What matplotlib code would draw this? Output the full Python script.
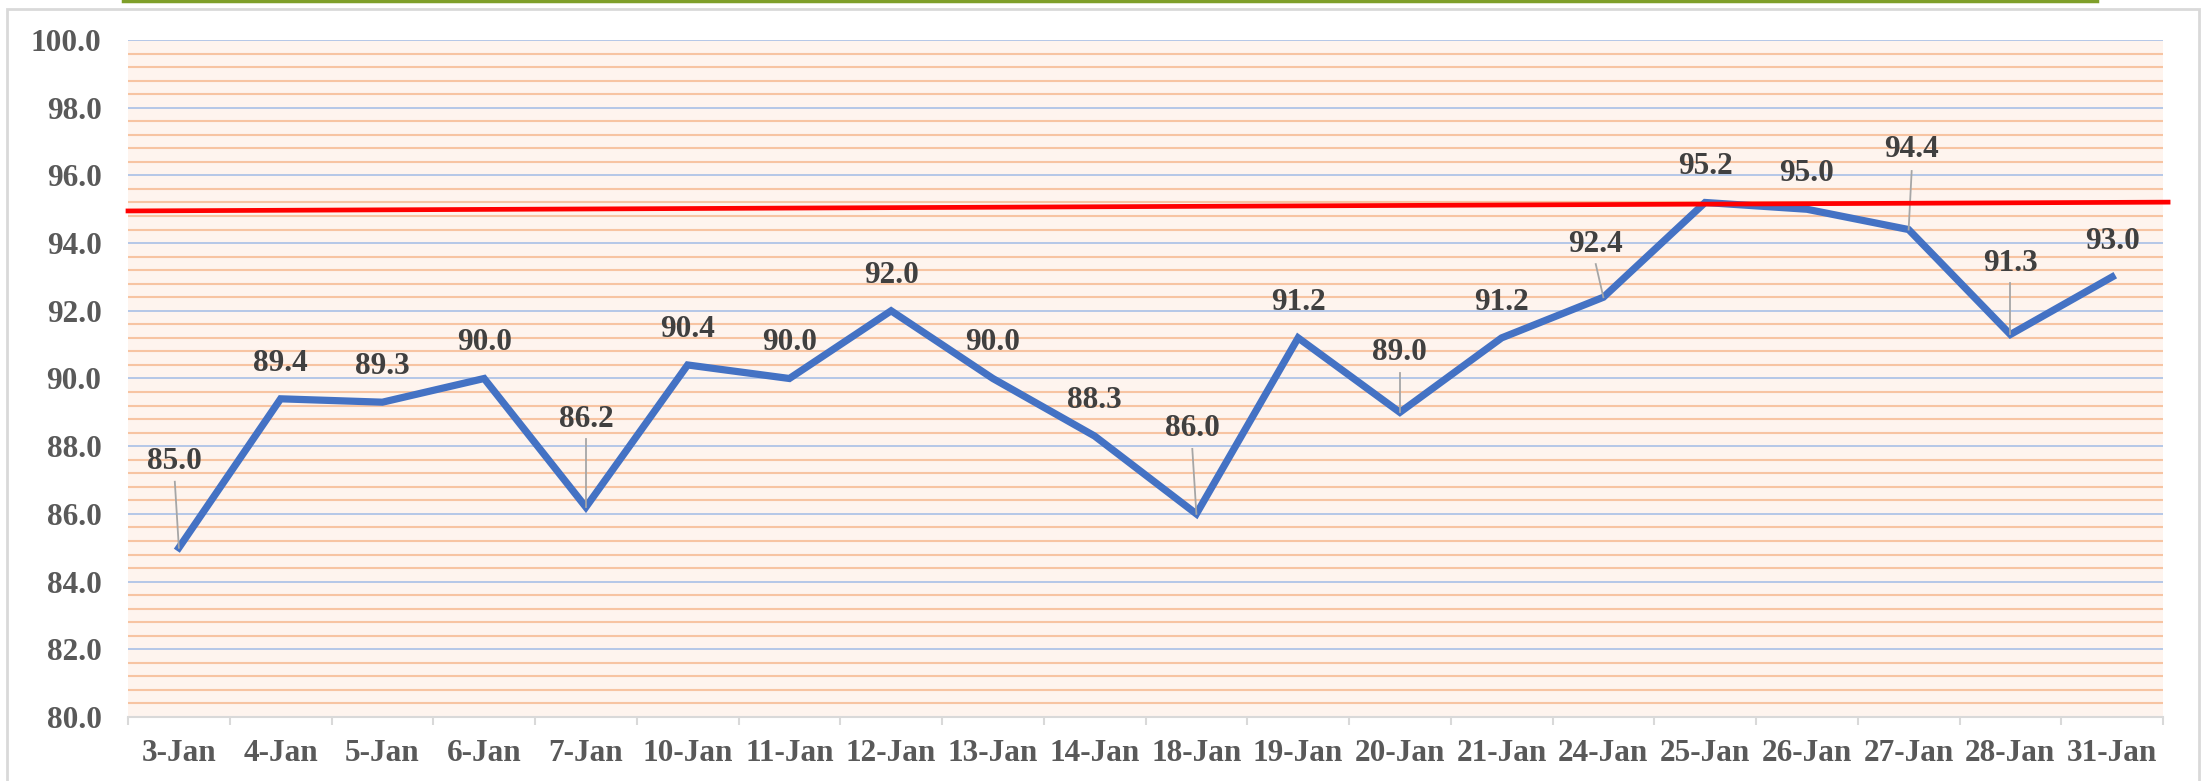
import matplotlib
matplotlib.use("Agg")
import matplotlib.pyplot as plt
from matplotlib.patches import Rectangle
from matplotlib.lines import Line2D
import numpy as np

# data
dates = ["3-Jan", "4-Jan", "5-Jan", "6-Jan", "7-Jan", "10-Jan", "11-Jan",
         "12-Jan", "13-Jan", "14-Jan", "18-Jan", "19-Jan", "20-Jan", "21-Jan",
         "24-Jan", "25-Jan", "26-Jan", "27-Jan", "28-Jan", "31-Jan"]
values = [85.0, 89.4, 89.3, 90.0, 86.2, 90.4, 90.0, 92.0, 90.0, 88.3,
          86.0, 91.2, 89.0, 91.2, 92.4, 95.2, 95.0, 94.4, 91.3, 93.0]
target_start, target_end = 94.95, 95.21

# colours
C_LINE = "#4472C4"
C_TARGET = "#FF0000"
C_GRID = "#B4C7E7"
C_STRIPE = "#F7C4A2"
C_FILL = "#FEF4EE"
C_AXIS = "#D9D9D9"
C_TICK = "#595959"
C_LABEL = "#404040"
FONT = "Liberation Serif"

# label placement: index -> (dx, dy of label, dy of leader top)
leaders = {0: (-0.04, 2.55, 1.95), 4: (0.0, 2.6, 2.0), 10: (-0.04, 2.53, 1.92),
           12: (0.0, 1.77, 1.16), 14: (-0.075, 1.55, 0.98),
           17: (0.03, 2.37, 1.73), 18: (0.0, 2.11, 1.52)}

fig = plt.figure(figsize=(22.09, 7.81), dpi=100)
ax = fig.add_axes([128 / 2209, 1 - 717 / 781, (2163 - 128) / 2209, (717 - 40) / 781])
ax.set_facecolor(C_FILL)

x = np.arange(len(dates))
ax.set_xlim(-0.5, len(dates) - 0.5)
ax.set_ylim(80, 100)

# striped background + blue gridlines
for v in np.arange(80.4, 100, 0.4):
    if abs(v / 2 - round(v / 2)) > 0.01:
        ax.axhline(v, color=C_STRIPE, lw=1.5, zorder=1)
for v in np.arange(82, 100.1, 2):
    ax.axhline(v, color=C_GRID, lw=1.4, zorder=1.5)

ax.plot(x, values, color=C_LINE, lw=5.2, solid_joinstyle="miter", zorder=3)
ax.plot([-0.5, 19.55], [target_start, target_end], color=C_TARGET, lw=3.4,
        zorder=4, clip_on=False)

# data labels
for i, v in enumerate(values):
    if i in leaders:
        dx, dy, dl = leaders[i]
        ax.plot([i + dx, i], [v + dl, v], color="#A6A6A6", lw=1.3, zorder=3.5)
    else:
        dx, dy = 0.0, 1.05
    ax.text(i + dx, v + dy, f"{v:.1f}", ha="center", va="center",
            fontsize=22.5, fontweight="bold", family=FONT, color=C_LABEL, zorder=5)

# axes styling
for s in ["left", "right", "top"]:
    ax.spines[s].set_visible(False)
ax.spines["bottom"].set_color(C_AXIS)
ax.spines["bottom"].set_linewidth(1.5)
ax.set_xticks(x)
ax.set_xticklabels(dates)
ax.set_xticks(np.arange(-0.5, len(dates), 1), minor=True)
ax.tick_params(axis="x", which="major", length=0, pad=16)
ax.tick_params(axis="x", which="minor", length=6, width=1.5, color=C_AXIS)
ax.set_yticks(np.arange(80, 100.1, 2))
ax.set_yticklabels([f"{v:.1f}" for v in np.arange(80, 100.1, 2)])
ax.tick_params(axis="y", length=0, pad=19)
for lab in ax.get_xticklabels() + ax.get_yticklabels():
    lab.set_fontfamily(FONT)
    lab.set_fontweight("bold")
    lab.set_fontsize(22.5)
    lab.set_color(C_TICK)

# chart frame and green strip along the top
fig.patches.append(Rectangle((7 / 2209, -0.02), (2199 - 7) / 2209, 1.02 - 9 / 781,
                             transform=fig.transFigure, facecolor="none",
                             edgecolor=C_AXIS, lw=2, zorder=0))
fig.lines.append(Line2D([123 / 2209, 2097 / 2209], [1 - 1 / 781, 1 - 1 / 781],
                        transform=fig.transFigure, color="#7F9F2A", lw=2.5))

fig.savefig("out.png", dpi=100)
